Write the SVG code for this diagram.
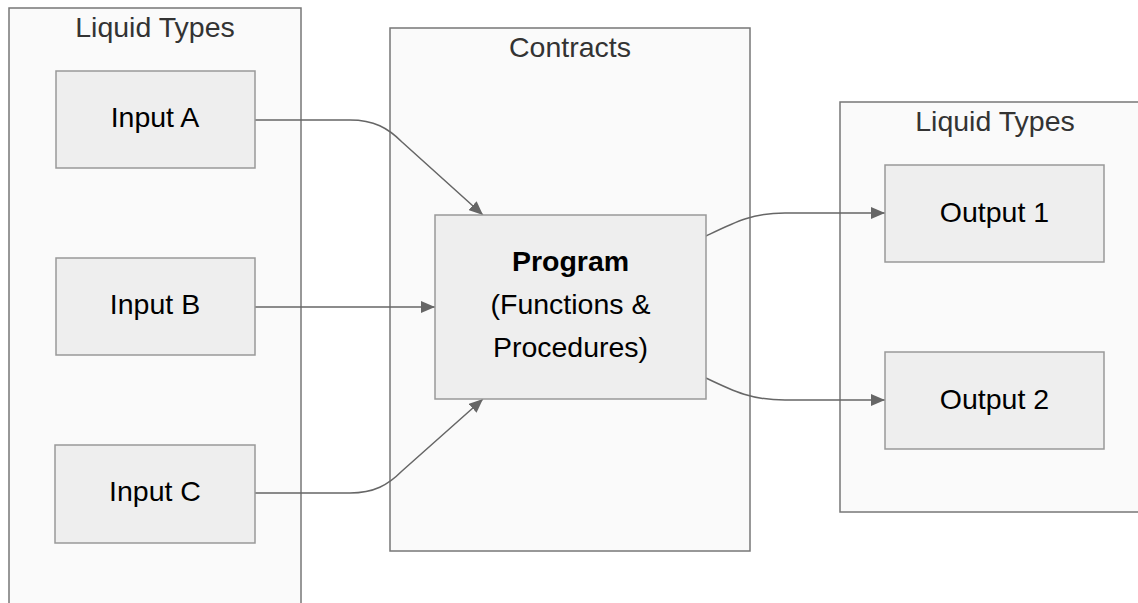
<svg xmlns="http://www.w3.org/2000/svg" width="1138" height="603" viewBox="0 0 1138 603">
<defs>
<style>
.cluster{fill:#fafafa;stroke:#777;stroke-width:1.5}
.title{font-family:"Liberation Sans",Arial,sans-serif;font-size:28.5px;fill:#333;text-anchor:middle}
.node rect{fill:#eeeeee;stroke:#999;stroke-width:1.5}
.node text{font-family:"Liberation Sans",Arial,sans-serif;font-size:28.5px;fill:#000;text-anchor:middle}
.edge{fill:none;stroke:#666;stroke-width:1.5}
</style>
<marker id="ah" viewBox="0 0 14 12" refX="14" refY="6" markerWidth="14" markerHeight="12" markerUnits="userSpaceOnUse" orient="auto">
<path d="M0,0 L14,6 L0,12 z" fill="#666"/>
</marker>
</defs>
<rect width="1138" height="603" fill="#ffffff"/>
<g id="cluster-inputs">
<rect class="cluster" x="9" y="8" width="292" height="610"/>
<text class="title" x="155" y="37">Liquid Types</text>
</g>
<g id="cluster-contracts">
<rect class="cluster" x="390" y="28" width="360" height="523"/>
<text class="title" x="570" y="57">Contracts</text>
</g>
<g id="cluster-outputs">
<rect class="cluster" x="840" y="102" width="310" height="410"/>
<text class="title" x="995" y="131">Liquid Types</text>
</g>
<g id="connectors">
<path class="edge" marker-end="url(#ah)" d="M255,120 L350,120 C374,120 388,128 402,142 L483,215"/>
<path class="edge" marker-end="url(#ah)" d="M255,307 L435,307"/>
<path class="edge" marker-end="url(#ah)" d="M255,493 L350,493 C374,493 388,485 402,471 L483,399"/>
<path class="edge" marker-end="url(#ah)" d="M706,236 C735,222 752,213 785,213 L885,213"/>
<path class="edge" marker-end="url(#ah)" d="M706,378 C735,392 752,400 785,400 L885,400"/>
</g>
<g id="node-inputA" class="node">
<rect x="56" y="71" width="199" height="97"/>
<text x="155" y="127">Input A</text>
</g>
<g id="node-inputB" class="node">
<rect x="56" y="258" width="199" height="97"/>
<text x="155" y="314">Input B</text>
</g>
<g id="node-inputC" class="node">
<rect x="55" y="445" width="200" height="98"/>
<text x="155" y="501">Input C</text>
</g>
<g id="node-program" class="node">
<rect x="435" y="215" width="271" height="184"/>
<text x="570.5" y="271" font-weight="bold">Program</text>
<text x="570.5" y="314">(Functions &amp;</text>
<text x="570.5" y="357">Procedures)</text>
</g>
<g id="node-output1" class="node">
<rect x="885" y="165" width="219" height="97"/>
<text x="994.5" y="222">Output 1</text>
</g>
<g id="node-output2" class="node">
<rect x="885" y="352" width="219" height="97"/>
<text x="994.5" y="409">Output 2</text>
</g>
</svg>
